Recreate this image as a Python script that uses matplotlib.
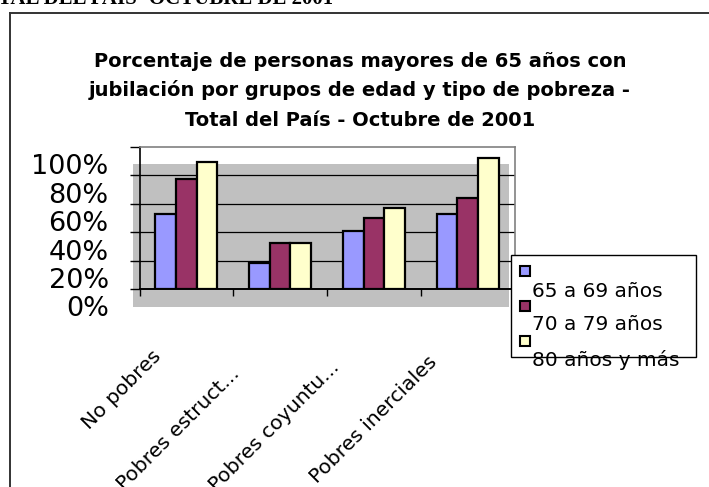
import matplotlib
matplotlib.use("Agg")
import matplotlib.pyplot as plt
import matplotlib.transforms as mtransforms
from matplotlib.patches import Rectangle
from matplotlib.lines import Line2D
from matplotlib.ticker import PercentFormatter
import numpy as np

plt.rcParams["font.family"] = ["DejaVu Sans"]

# Data
categories = ["No pobres", "Pobres estruct...", "Pobres coyuntu...", "Pobres inerciales"]
series_names = ["65 a 69 años", "70 a 79 años", "80 años y más"]
edad_65_69 = [0.527, 0.185, 0.410, 0.527]
edad_70_79 = [0.771, 0.325, 0.501, 0.637]
edad_80_mas = [0.890, 0.325, 0.571, 0.918]
series_values = [edad_65_69, edad_70_79, edad_80_mas]
series_colors = ["#9999FF", "#993366", "#FFFFCC"]
y_ticks = [0.0, 0.2, 0.4, 0.6, 0.8, 1.0]

title_lines = ["Porcentaje de personas mayores de 65 años con",
               "jubilación por grupos de edad y tipo de pobreza -",
               "Total del País - Octubre de 2001"]
header = "TOTAL DEL PAIS- OCTUBRE DE 2001"

W, H = 709, 487
DPI = 100
fig = plt.figure(figsize=(W / DPI, H / DPI), dpi=DPI)
fig.patch.set_facecolor("white")


def fx(px):
    return px / W


def fy(py):
    return 1 - py / H


# Page header (clipped at the top edge) and the outer frame
fig.text(fx(333), fy(4.5), header, ha="right", va="baseline",
         fontsize=15, fontweight="bold", family="Liberation Serif")
fig.add_artist(Line2D([fx(10), fx(10)], [fy(12.7), 0], transform=fig.transFigure,
                      color="#333333", lw=1.4))
fig.add_artist(Line2D([fx(10), 1], [fy(12.7), fy(12.7)], transform=fig.transFigure,
                      color="#333333", lw=1.4))

# Chart title, one line at a time
for line, base in zip(title_lines, [67, 96.5, 126]):
    fig.text(fx(360), fy(base), line, ha="center", va="baseline",
             fontsize=14, fontweight="bold")

# Grey plot area
fig.add_artist(Rectangle((fx(132.7), fy(306.7)), fx(509 - 132.7), (306.7 - 164) / H,
                         transform=fig.transFigure, facecolor="#C0C0C0",
                         edgecolor="none", zorder=-1))

ax_left, ax_right, ax_top, ax_bottom = 139.5, 514.5, 146.7, 289.0
ax = fig.add_axes([fx(ax_left), fy(ax_bottom), fx(ax_right - ax_left),
                   (ax_bottom - ax_top) / H])
ax.set_facecolor("none")

x = np.arange(len(categories))
bar_w = 0.22
for i, (vals, color) in enumerate(zip(series_values, series_colors)):
    ax.bar(x + (i - 1) * bar_w, vals, width=bar_w, color=color,
           edgecolor="black", linewidth=1.6, zorder=3)

ax.set_xlim(-0.5, len(categories) - 0.5)
ax.set_ylim(0, 1)

# Gridlines
for v in y_ticks[1:-1]:
    ax.axhline(v, color="black", lw=0.9, zorder=1)

# Spines
ax.spines["left"].set_color("black")
ax.spines["left"].set_linewidth(1.2)
ax.spines["bottom"].set_color("black")
ax.spines["bottom"].set_linewidth(1.4)
ax.spines["top"].set_color("#808080")
ax.spines["right"].set_color("#808080")
ax.spines["top"].set_linewidth(1.2)
ax.spines["right"].set_linewidth(1.2)

# Y axis
ax.set_yticks(y_ticks)
ax.yaxis.set_major_formatter(PercentFormatter(1.0, decimals=0))
ax.tick_params(axis="y", direction="out", length=7.2, width=1.0, pad=15.0,
               labelsize=19.5, colors="black")
offset = mtransforms.ScaledTranslation(0, -17.5 / DPI, fig.dpi_scale_trans)
for lbl in ax.get_yticklabels():
    lbl.set_transform(lbl.get_transform() + offset)

# X axis: ticks between categories, labels drawn rotated below the axis
ax.set_xticks(np.arange(len(categories) + 1) - 0.5)
ax.set_xticklabels([])
ax.tick_params(axis="x", direction="out", length=5, width=1.0)
label_nudge = [(-65, 390), (-102, 429), (-100, 426), (-94, 420)]
for xi, name, (dx, ypx) in zip(x, categories, label_nudge):
    shift = mtransforms.ScaledTranslation(dx / DPI, -(ypx - ax_bottom) / DPI,
                                          fig.dpi_scale_trans)
    ax.text(xi, 0, name, transform=ax.get_xaxis_transform() + shift,
            ha="center", va="center", rotation=45, rotation_mode="anchor",
            fontsize=14.6, clip_on=False)

# Legend box
fig.add_artist(Rectangle((fx(510.7), fy(357)), fx(696 - 510.7), (357 - 254.7) / H,
                         transform=fig.transFigure, facecolor="white",
                         edgecolor="black", lw=1.0, zorder=5))
marker_y = [271, 305.5, 340.5]
text_y = [291.7, 325, 360]
for name, color, my, ty in zip(series_names, series_colors, marker_y, text_y):
    fig.add_artist(Rectangle((fx(520), fy(my + 5)), fx(10), 10 / H,
                             transform=fig.transFigure, facecolor=color,
                             edgecolor="black", lw=1.5, zorder=6))
    fig.text(fx(532.5), fy(ty), name, ha="left", va="center", fontsize=14.5,
             zorder=7)

fig.savefig("out.png", dpi=DPI)
